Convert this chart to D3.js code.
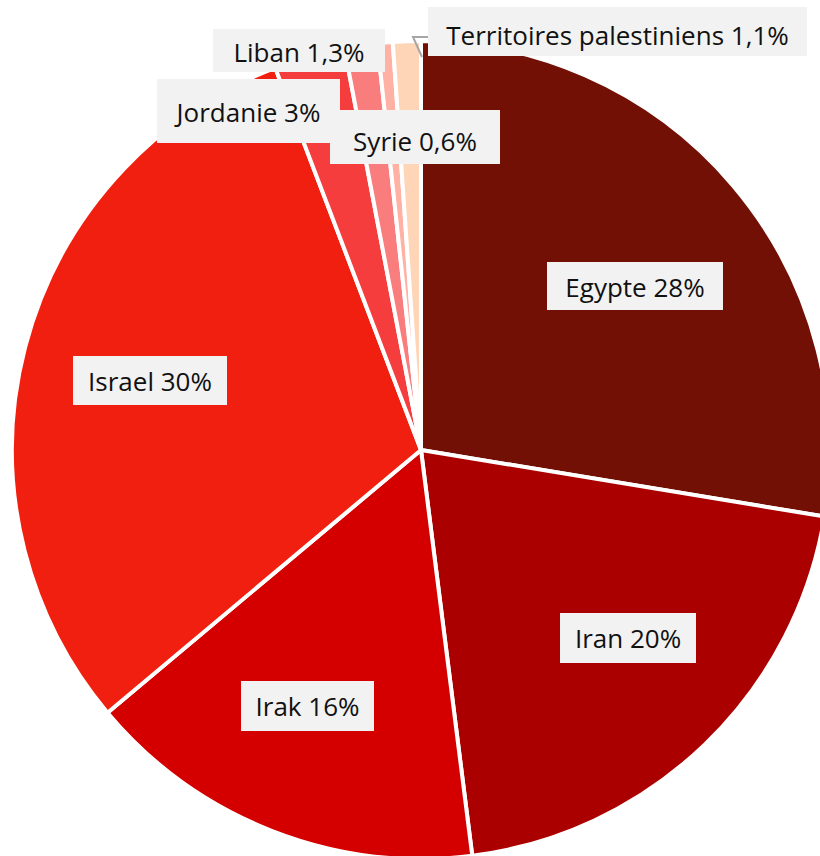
<!DOCTYPE html>
<html>
<head>
<meta charset="utf-8">
<script src="https://cdn.jsdelivr.net/npm/d3@7"></script>
<style>
  html, body { margin: 0; padding: 0; background: #fff; }
  svg { display: block; }
</style>
</head>
<body>
<svg id="chart"></svg>
<script>
// pie data
const countries = ['Egypte', 'Iran', 'Irak', 'Israel', 'Jordanie', 'Liban', 'Syrie', 'Territoires palestiniens'];
const shares = [27.6, 20.4, 15.9, 30.3, 2.8, 1.3, 0.6, 1.1];
const labels = ['28%', '20%', '16%', '30%', '3%', '1,3%', '0,6%', '1,1%'];
const colours = ['#721005', '#ab0000', '#d40000', '#f11f0f', '#f53d3d', '#fa7d7d', '#ffb2a4', '#ffd5b8'];

const width = 820;
const height = 856;
const cx = 421;
const cy = 450;
const radius = 409;

// label boxes, relative to the pie centre: [centre x, centre y, box w, box h, text shift]
const boxes = {
  'Egypte': [214, -164, 176, 48, 2],
  'Iran': [207, 188, 136, 50, 1],
  'Irak': [-113.5, 256, 133, 50, 1],
  'Israel': [-271, -69.5, 154, 49, 1],
  'Jordanie': [-172.5, -339, 183, 64, 2],
  'Liban': [-122, -399.5, 172, 43, 2.5],
  'Syrie': [-6, -313, 170, 54, 5],
  'Territoires palestiniens': [196.5, -418.5, 379, 49, 4.5]
};

const svg = d3.select('#chart')
  .attr('width', width)
  .attr('height', height);

const g = svg.append('g')
  .attr('transform', `translate(${cx},${cy})`);

const rows = countries.map((c, i) => ({ name: c, value: shares[i], label: labels[i], colour: colours[i] }));

const pie = d3.pie()
  .sort(null)
  .value(d => d.value);

const arc = d3.arc()
  .innerRadius(0)
  .outerRadius(radius);

const arcs = pie(rows);

g.selectAll('.slice')
  .data(arcs)
  .enter().append('path')
  .attr('class', 'slice')
  .attr('d', arc)
  .attr('fill', d => d.data.colour)
  .attr('stroke', '#fff')
  .attr('stroke-width', 4)
  .attr('stroke-linejoin', 'round');

// leader line for the last slice
g.append('polyline')
  .attr('points', `1,${-radius + 16} -8,${-radius - 4} 8,${-radius - 4}`)
  .attr('fill', 'none')
  .attr('stroke', '#a6a6a6')
  .attr('stroke-width', 2);

const lab = g.selectAll('.lab')
  .data(arcs)
  .enter().append('g')
  .attr('class', 'lab')
  .attr('transform', d => {
    const b = boxes[d.data.name];
    return `translate(${b[0]},${b[1]})`;
  });

lab.append('rect')
  .attr('x', d => -boxes[d.data.name][2] / 2)
  .attr('y', d => -boxes[d.data.name][3] / 2)
  .attr('width', d => boxes[d.data.name][2])
  .attr('height', d => boxes[d.data.name][3])
  .attr('fill', '#f2f2f2');

lab.append('text')
  .attr('text-anchor', 'middle')
  .attr('y', d => boxes[d.data.name][4])
  .attr('dy', '0.36em')
  .style('font-family', '"Open Sans", "Noto Sans", sans-serif')
  .style('font-size', '26px')
  .style('fill', '#111')
  .text(d => `${d.data.name} ${d.data.label}`);
</script>
</body>
</html>
